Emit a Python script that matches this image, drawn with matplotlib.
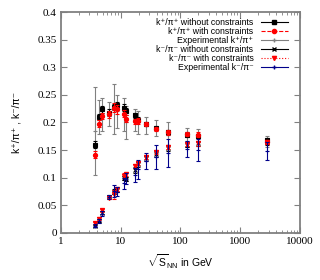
import matplotlib
matplotlib.use("Agg")
import matplotlib.pyplot as plt
from matplotlib.lines import Line2D
from matplotlib.ticker import FixedLocator, LogLocator, NullFormatter, FixedFormatter

# Data
energies = [3.8, 4.3, 4.9, 6.3, 7.7, 8.8, 11.5, 12.3, 17.3, 19.6, 27, 39, 62.4, 130, 200, 2760]

kp_free = [0.160, 0.210, 0.224, 0.218, 0.228, 0.231, 0.227, 0.220, 0.213, 0.205, 0.197, 0.190, 0.182, 0.178, 0.176, 0.168]
kp_free_err = [0.006, 0.006, 0.006, 0.006, 0.006, 0.006, 0.006, 0.006, 0.005, 0.005, 0.004, 0.004, 0.004, 0.004, 0.004, 0.004]
kp_cons = [0.142, 0.198, 0.212, 0.215, 0.227, 0.224, 0.216, 0.207, 0.202, 0.203, 0.197, 0.188, 0.182, 0.179, 0.178, 0.165]
kp_cons_err = [0.006, 0.006, 0.006, 0.006, 0.008, 0.008, 0.006, 0.006, 0.005, 0.005, 0.004, 0.004, 0.004, 0.004, 0.004, 0.004]
kp_exp = [0.185, 0.210, 0.215, 0.215, 0.225, 0.220, 0.215, 0.200, 0.205, 0.200, 0.195, 0.190, 0.180, 0.178, 0.177, 0.165]
kp_exp_err = [0.080, 0.030, 0.030, 0.022, 0.045, 0.030, 0.030, 0.030, 0.020, 0.020, 0.015, 0.015, 0.020, 0.012, 0.012, 0.010]

km_free = [0.013, 0.022, 0.037, 0.066, 0.075, 0.078, 0.100, 0.098, 0.114, 0.124, 0.135, 0.143, 0.154, 0.160, 0.162, 0.165]
km_free_err = [0.002, 0.003, 0.003, 0.003, 0.004, 0.004, 0.004, 0.004, 0.005, 0.005, 0.005, 0.005, 0.005, 0.005, 0.005, 0.005]
km_cons = [0.018, 0.026, 0.041, 0.064, 0.070, 0.080, 0.104, 0.107, 0.121, 0.127, 0.138, 0.147, 0.156, 0.161, 0.162, 0.165]
km_cons_err = [0.002, 0.003, 0.003, 0.003, 0.008, 0.004, 0.004, 0.004, 0.004, 0.004, 0.004, 0.004, 0.004, 0.004, 0.004, 0.004]
km_exp = [0.013, 0.022, 0.035, 0.065, 0.076, 0.075, 0.090, 0.098, 0.105, 0.115, 0.130, 0.138, 0.145, 0.152, 0.150, 0.149]
km_exp_err = [0.003, 0.004, 0.005, 0.004, 0.010, 0.008, 0.010, 0.010, 0.012, 0.018, 0.015, 0.022, 0.025, 0.014, 0.020, 0.016]

x_ticks = [1, 10, 100, 1000, 10000]
x_tick_labels = ["1", "10", "100", "1000", "10000"]
y_ticks = [0, 0.05, 0.1, 0.15, 0.2, 0.25, 0.3, 0.35, 0.4]
y_tick_labels = ["0", "0.05", "0.1", "0.15", "0.2", "0.25", "0.3", "0.35", "0.4"]

# Styles
grey = "#808080"
red = "#ff0000"
blue = "#00008b"
sans = ["Liberation Sans", "DejaVu Sans"]
serif = "Liberation Serif"

plt.rcParams["mathtext.fontset"] = "custom"
plt.rcParams["mathtext.rm"] = "Liberation Sans"
plt.rcParams["mathtext.it"] = "Liberation Sans:italic"

fig = plt.figure(figsize=(3.2, 2.8), dpi=100)
ax = fig.add_axes([0.19, 0.168, 0.7475, 0.789])

def draw(y, err, color, marker, ms, ls="-", z=2):
    c = ax.errorbar(energies, y, yerr=err, fmt=marker, color=color, ms=ms,
                    mew=0.8, elinewidth=0.8, capsize=1.5, capthick=0.8, zorder=z)
    c[2][0].set_linestyle(ls)
    return c

draw(kp_exp, kp_exp_err, grey, "+", 3.5, z=1)
draw(kp_free, kp_free_err, "black", "s", 2.8, z=2)
draw(kp_cons, kp_cons_err, red, "o", 3, ls="--", z=3)
draw(km_free, km_free_err, "black", "x", 3, z=2)
draw(km_cons, km_cons_err, red, "v", 3, ls=":", z=3)
draw(km_exp, km_exp_err, blue, "+", 3.5, z=4)

ax.set_xscale("log")
ax.set_xlim(1, 10000)
ax.set_ylim(0, 0.4)
ax.xaxis.set_major_locator(FixedLocator(x_ticks))
ax.xaxis.set_major_formatter(FixedFormatter(x_tick_labels))
ax.xaxis.set_minor_locator(LogLocator(base=10, subs=range(2, 10)))
ax.xaxis.set_minor_formatter(NullFormatter())
ax.yaxis.set_major_locator(FixedLocator(y_ticks))
ax.yaxis.set_major_formatter(FixedFormatter(y_tick_labels))

ax.tick_params(which="both", direction="in", top=True, right=True, color="#808080",
               labelsize=8, pad=3)
ax.tick_params(which="major", length=4, width=0.8)
ax.tick_params(which="minor", length=2, width=0.6)
for lab in ax.get_xticklabels() + ax.get_yticklabels():
    lab.set_fontfamily(serif)
for s in ax.spines.values():
    s.set_color("#808080")
    s.set_linewidth(1.3)

ax.set_ylabel("k⁺/π⁺ , k⁻/π⁻", fontsize=7.5, family=sans, labelpad=11)
ax.set_xlabel(r"$\sqrt{\mathregular{S}}_{\mathregular{NN}}$ in GeV", fontsize=7.5, family=sans, labelpad=5)

handles = [
    Line2D([], [], color="black", marker="s", ms=2.8, lw=0.8),
    Line2D([], [], color=red, marker="o", ms=3, lw=0.8, ls="--"),
    Line2D([], [], color=grey, marker="+", ms=3.5, lw=0.8),
    Line2D([], [], color="black", marker="x", ms=3, lw=0.8),
    Line2D([], [], color=red, marker="v", ms=3, lw=0.8, ls=":"),
    Line2D([], [], color=blue, marker="+", ms=3.5, lw=0.8),
]
labels = [
    "k⁺/π⁺ without constraints",
    "k⁺/π⁺ with constraints",
    "Experimental k⁺/π⁺",
    "k⁻/π⁻ without constraints",
    "k⁻/π⁻ with constraints",
    "Experimental k⁻/π⁻",
]
leg = ax.legend(handles, labels, loc="upper right", bbox_to_anchor=(0.948, 0.975),
                markerfirst=False, frameon=False,
                prop={"family": sans, "size": 6.3}, handlelength=3.0, handletextpad=0.9,
                labelspacing=0.02, borderaxespad=0.0, borderpad=0.0)

fig.savefig("out.png", dpi=100)
